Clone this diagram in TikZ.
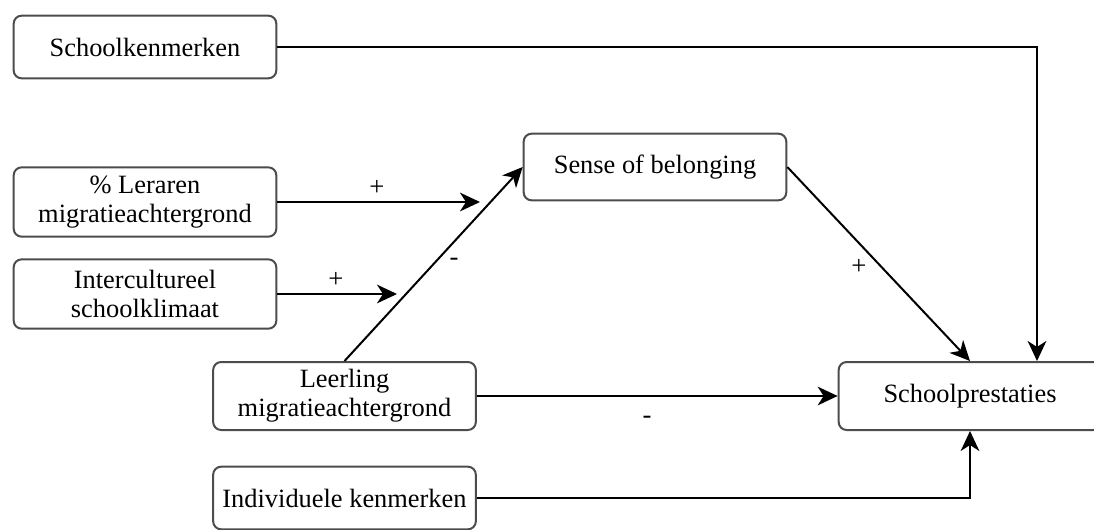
\documentclass[tikz,border=0pt]{standalone}
\usepackage{fontspec}
\setmainfont{Liberation Serif}
\usetikzlibrary{arrows.meta}
\tikzset{
  block/.style={draw=black!70, line width=1.5pt, rounded corners=6pt, fill=white,
    align=center, inner sep=2pt, minimum width=197pt,
    font=\fontsize{19.8}{22}\selectfont},
  link/.style={line width=1.5pt, -{Stealth[length=15pt,width=14pt,inset=4.5pt]}},
  sign/.style={font=\fontsize{20}{22}\selectfont},
}
\begin{document}
\begin{tikzpicture}[x=0.75pt,y=-0.75pt]
  \useasboundingbox (0,0) rectangle (1094,529);
  % boxes
  \node[block, minimum height=47pt] (kenm) at (145,47) {Schoolkenmerken};
  \node[block, minimum height=52pt] (leraren) at (145,202) {\% Leraren\\migratieachtergrond};
  \node[block, minimum height=52pt] (klimaat) at (145,294) {Intercultureel\\schoolklimaat};
  \node[block, minimum height=51pt] (leerling) at (344.5,396) {Leerling\\migratieachtergrond};
  \node[block, minimum height=47pt] (indiv) at (344.5,498) {Individuele kenmerken};
  \node[block, minimum height=50pt] (belong) at (655,167) {Sense of belonging};
  \node[block, minimum height=51pt] (prest) at (970,396) {Schoolprestaties};
  % free ends
  \coordinate (lerEnd) at (480,202);
  \coordinate (klimEnd) at (397,294);
  \coordinate (kenmIn) at (1037,361);
  % connectors
  \draw[link] (kenm.east) -| (kenmIn);
  \draw[link] (leraren.east) -- (lerEnd);
  \draw[link] (klimaat.east) -- (klimEnd);
  \draw[link] (leerling.north) -- (belong.west);
  \draw[link] (belong.east) -- (prest.north);
  \draw[link] (leerling.east) -- (prest.west);
  \draw[link] (indiv.east) -| (prest.south);
  % signs
  \node[sign] (s1) at (377,188) {+};
  \node[sign] (s2) at (336,280) {+};
  \node[sign] (s3) at (859,267) {+};
  \node[sign] (s4) at (454,262) {-};
  \node[sign] (s5) at (647,420) {-};
\end{tikzpicture}
\end{document}
